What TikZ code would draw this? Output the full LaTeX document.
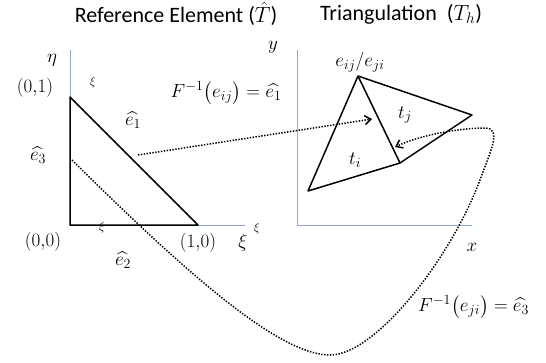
\RequirePackage{fix-cm}
\documentclass[tikz,border=0pt]{standalone}
\usepackage{amsmath, amssymb}
\usepackage{fontspec}
\newfontfamily\titlefont{Carlito}
\usepackage{tikz}
\usetikzlibrary{arrows.meta}
\definecolor{axisblue}{RGB}{140,170,205}
\DeclareMathSizes{19}{19}{14}{11}

\begin{document}
\begin{tikzpicture}[
        x=1pt, y=-1pt,
        axis/.style={draw=axisblue, line width=0.9pt},
        edge/.style={draw=black, line width=1.5pt, line join=round},
        mapline/.style={dash pattern=on 1.4pt off 1.5pt, line width=1.5pt, -{Straight Barb[length=6pt, width=9pt]}},
        lbl/.style={font=\fontsize{19}{22}\selectfont, inner sep=1pt},
        small/.style={font=\fontsize{12}{14}\selectfont, inner sep=0pt},
        title/.style={font=\titlefont\fontsize{22}{26}\selectfont}
    ]
        \useasboundingbox (0,0) rectangle (546,362);

        % Titoli
        \node[title] (reftitle) at (176,14) {Reference Element ($\hat{T}$)};
        \node[title] (trititle) at (401,14) {Triangulation\ \ ($T_h$)};

        % Elemento di riferimento
        \coordinate (r00) at (70,225);
        \coordinate (r01) at (70,97);
        \coordinate (r10) at (198,225);
        \coordinate (etatop) at (70,50);
        \coordinate (xiend) at (245,225);
        \draw[axis] (r01) -- (etatop);
        \draw[axis] (r10) -- (xiend);
        \draw[edge] (r01) -- (r00) -- (r10) -- cycle;

        \node[lbl] (eta) at (52,60) {$\eta$};
        \node[small] (xitop) at (93,82) {$\xi$};
        \node[lbl] (p01) at (35,88) {$(0{,}1)$};
        \node[lbl] (he1) at (133,120) {$\widehat{e_1}$};
        \node[lbl] (he3) at (38,155) {$\widehat{e_3}$};
        \node[lbl] (p00) at (43,242) {$(0{,}0)$};
        \node[small] (xibot) at (102,227) {$\xi$};
        \node[lbl] (he2) at (123,260) {$\widehat{e_2}$};
        \node[lbl] (p10) at (198,243) {$(1{,}0)$};
        \node[lbl] (xi) at (243,243) {$\xi$};
        \node[small] (xiright) at (257,228) {$\xi$};

        % Triangolazione
        \coordinate (orig) at (297,225);
        \coordinate (ytop) at (297,50);
        \coordinate (xright) at (472,225);
        \draw[axis] (ytop) -- (orig) -- (xright);
        \coordinate (vA) at (358,76);
        \coordinate (vB) at (472,115);
        \coordinate (vC) at (400,163);
        \coordinate (vD) at (308,191);
        \draw[edge] (vA) -- (vB) -- (vC) -- (vD) -- cycle;
        \draw[edge] (vA) -- (vC);

        \node[lbl] (ylab) at (273,47) {$y$};
        \node[lbl] (xlab) at (472,247) {$x$};
        \node[lbl] (eij) at (360,62) {$e_{ij}/e_{ji}$};
        \node[lbl] (tj) at (405,115) {$t_j$};
        \node[lbl] (ti) at (355,160) {$t_i$};

        % Mappe inverse
        \node[lbl] (mapij) at (226,93) {$F^{-1}\bigl(e_{ij}\bigr)=\widehat{e_1}$};
        \node[lbl, anchor=west] (mapji) at (417,307) {$F^{-1}\bigl(e_{ji}\bigr)=\widehat{e_3}$};

        \coordinate (e1pt) at (138,155);
        \coordinate (tjin) at (372,119);
        \coordinate (e3pt) at (72,160);
        \coordinate (tiin) at (395,147);
        \draw[mapline] (e1pt) -- (tjin);
        \draw[mapline] (e3pt) .. controls (190,277) and (280,355) .. (330,355)
            .. controls (375,355) and (450,260) .. (480,180)
            .. controls (491,150) and (502,128) .. (485,128)
            .. controls (460,128) and (420,135) .. (tiin);
    \end{tikzpicture}
\end{document}
